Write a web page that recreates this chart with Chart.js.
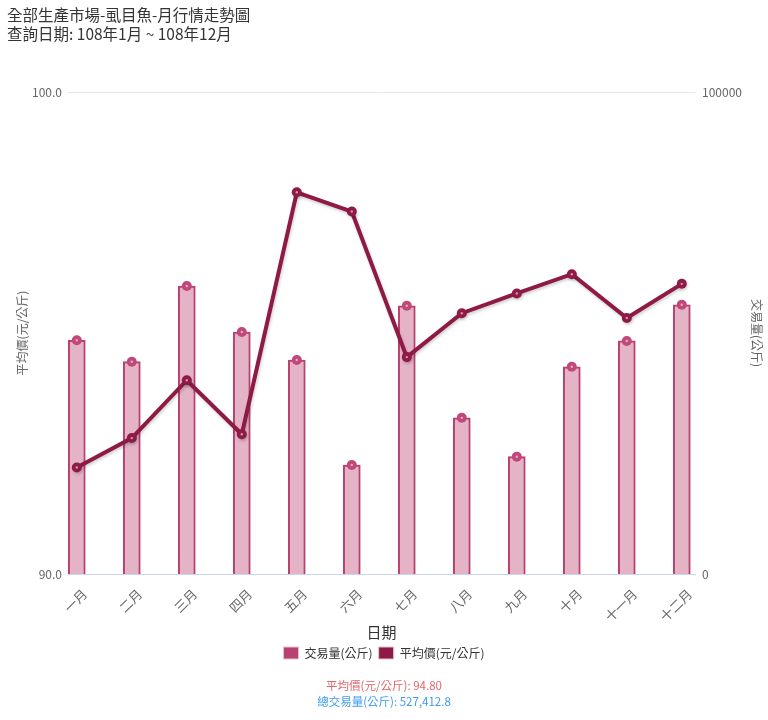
<!DOCTYPE html>
<html>
<head>
<meta charset="utf-8">
<script src="https://cdn.jsdelivr.net/npm/chart.js@4.4.1/dist/chart.umd.min.js"></script>
<style>
  html, body { margin: 0; padding: 0; background: #fff; }
  body { width: 768px; height: 720px; position: relative; overflow: hidden;
         font-family: "Noto Sans CJK TC", "Noto Sans", sans-serif; }
  #head { position: absolute; left: 7px; top: 5px; font-size: 15.5px; line-height: 19px; color: #333; z-index: 2; }
  #wrap { position: absolute; left: 0; top: 0; width: 768px; height: 720px; }
  #foot { position: absolute; left: 0; top: 677px; width: 768px; text-align: center; font-size: 11.5px; line-height: 16px; z-index: 2; }
  #foot .avg { color: #e2666a; }
  #foot .sum { color: #3e9bf2; }
</style>
</head>
<body>
<div id="head">
  <div>全部生產市場-虱目魚-月行情走勢圖</div>
  <div>查詢日期: 108年1月 ~ 108年12月</div>
</div>
<div id="wrap"><canvas id="chart" width="768" height="720"></canvas></div>
<div id="foot">
  <div class="avg" id="avgText"></div>
  <div class="sum" id="sumText"></div>
</div>
<script>
// 資料
const months = ['一月', '二月', '三月', '四月', '五月', '六月', '七月', '八月', '九月', '十月', '十一月', '十二月'];
const avgPrice = [92.21, 92.82, 94.02, 92.90, 97.92, 97.52, 94.50, 95.41, 95.82, 96.22, 95.31, 96.02];
const volume = [48500, 44050, 59750, 50200, 44400, 22600, 55650, 32400, 24350, 43000, 48350, 55850];
const priceTicks = [90, 100];
const volumeTicks = [0, 100000];
const avgLabel = '平均價(元/公斤): 94.80';
const sumLabel = '總交易量(公斤): 527,412.8';

document.getElementById('avgText').textContent = avgLabel;
document.getElementById('sumText').textContent = sumLabel;

Chart.defaults.font.family = '"Noto Sans CJK TC", "Noto Sans", sans-serif';
Chart.defaults.color = '#666';

const LINE_COLOR = '#8e1a45';
const BAR_BORDER = '#b94171';
const BAR_FILL = '#e4b4c6';
const BAR_MARK = '#c0487a';

// 折線陰影
const lineShadow = {
    id: 'lineShadow',
    beforeDatasetDraw(chart, args) {
        if (args.index !== 2) return;
        const ctx = chart.ctx;
        ctx.save();
        ctx.shadowColor = 'rgba(0,0,0,0.18)';
        ctx.shadowOffsetX = 1;
        ctx.shadowOffsetY = 2;
        ctx.shadowBlur = 3;
    },
    afterDatasetDraw(chart, args) {
        if (args.index !== 2) return;
        chart.ctx.restore();
    }
};

// 標記中心小點
const markerDots = {
    id: 'markerDots',
    afterDatasetsDraw(chart) {
        const ctx = chart.ctx;
        [1, 2].forEach((i) => {
            chart.getDatasetMeta(i).data.forEach((pt) => {
                ctx.beginPath();
                ctx.arc(pt.x, pt.y, 1.2, 0, Math.PI * 2);
                ctx.fillStyle = 'rgba(255,255,255,0.55)';
                ctx.fill();
            });
        });
    }
};

const toXY = (arr) => arr.map((v, i) => ({ x: i, y: v }));

new Chart(document.getElementById('chart'), {
    type: 'bar',
    data: {
        datasets: [
            {
                type: 'bar',
                label: '交易量(公斤)',
                data: toXY(volume),
                yAxisID: 'y1',
                backgroundColor: BAR_FILL,
                borderColor: BAR_BORDER,
                borderWidth: 2,
                barThickness: 17,
                order: 3
            },
            {
                type: 'line',
                label: 'marker',
                data: toXY(volume),
                yAxisID: 'y1',
                showLine: false,
                pointRadius: 5,
                pointBackgroundColor: BAR_MARK,
                pointBorderWidth: 0,
                order: 2
            },
            {
                type: 'line',
                label: '平均價(元/公斤)',
                data: toXY(avgPrice),
                yAxisID: 'y',
                borderColor: LINE_COLOR,
                backgroundColor: LINE_COLOR,
                borderWidth: 4,
                pointRadius: 5,
                pointBackgroundColor: LINE_COLOR,
                pointBorderWidth: 0,
                tension: 0,
                fill: false,
                order: 1
            }
        ]
    },
    options: {
        responsive: false,
        animation: false,
        layout: { padding: { top: 92, bottom: 51, left: 0, right: 0 } },
        plugins: {
            tooltip: { enabled: false },
            legend: {
                position: 'bottom',
                labels: {
                    boxWidth: 15,
                    boxHeight: 12,
                    padding: 6,
                    color: '#333',
                    font: { size: 12 },
                    filter: (item) => item.datasetIndex !== 1,
                    sort: (a, b) => a.datasetIndex - b.datasetIndex,
                    generateLabels(chart) {
                        return Chart.defaults.plugins.legend.labels.generateLabels(chart).map((item) => {
                            item.fillStyle = item.datasetIndex === 0 ? BAR_BORDER : LINE_COLOR;
                            item.strokeStyle = '#e2c3cf';
                            item.lineWidth = 1;
                            return item;
                        });
                    }
                }
            }
        },
        scales: {
            x: {
                type: 'linear',
                min: -0.16,
                max: 11.24,
                offset: false,
                grid: { display: false, drawTicks: false },
                border: { display: true, color: '#ccd6eb', width: 1 },
                afterBuildTicks: (s) => { s.ticks = months.map((m, i) => ({ value: i })); },
                afterFit: (s) => { s.height = 67; },
                ticks: {
                    autoSkip: false,
                    minRotation: 45,
                    maxRotation: 45,
                    padding: 12,
                    labelOffset: 8,
                    color: '#666',
                    font: { size: 13 },
                    callback: (v) => months[v]
                },
                title: {
                    display: true,
                    text: '日期',
                    color: '#333',
                    font: { size: 15 },
                    padding: { top: 0, bottom: 0 }
                }
            },
            y: {
                position: 'left',
                min: 90,
                max: 100,
                afterBuildTicks: (s) => { s.ticks = priceTicks.map((v) => ({ value: v })); },
                afterFit: (s) => { s.width = 68; },
                grid: { color: '#e6e6e6', drawTicks: false },
                border: { display: false },
                ticks: {
                    padding: 6,
                    color: '#666',
                    font: { size: 12 },
                    callback: (v) => v.toFixed(1)
                },
                title: {
                    display: true,
                    text: '平均價(元/公斤)',
                    color: '#666',
                    font: { size: 12 },
                    padding: { top: 15, bottom: 0 }
                }
            },
            y1: {
                position: 'right',
                min: 0,
                max: 100000,
                afterBuildTicks: (s) => { s.ticks = volumeTicks.map((v) => ({ value: v })); },
                afterFit: (s) => { s.width = 73; },
                grid: { display: false, drawTicks: false },
                border: { display: false },
                ticks: {
                    padding: 7,
                    color: '#666',
                    font: { size: 12 },
                    callback: (v) => String(v)
                },
                title: {
                    display: true,
                    text: '交易量(公斤)',
                    color: '#666',
                    font: { size: 12 },
                    padding: { top: 4, bottom: 0 }
                }
            }
        }
    },
    plugins: [lineShadow, markerDots]
});
</script>
</body>
</html>
